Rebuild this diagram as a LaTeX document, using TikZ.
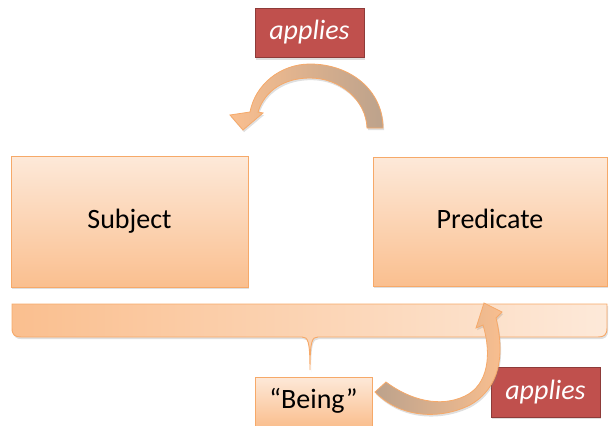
\documentclass[tikz,border=0pt]{standalone}
\usepackage{fontspec}
\setmainfont{Carlito}
\usetikzlibrary{shadows}
\definecolor{peach}{HTML}{FDE9D9}
\definecolor{apricot}{HTML}{FABF8F}
\definecolor{rim}{HTML}{F6A969}
\definecolor{brick}{HTML}{C0504D}
\definecolor{brickrim}{HTML}{8E3B39}
\definecolor{taupe}{HTML}{BCA28C}
\begin{document}
\begin{tikzpicture}[x=0.75pt,y=-0.75pt,
  softshadow/.style={drop shadow={opacity=0.25,shadow xshift=0.8pt,shadow yshift=-1.6pt}},
  termbox/.style={draw=rim,line width=0.7pt,top color=peach,bottom color=apricot,inner sep=0pt,
    text height=14pt,text depth=4pt,font=\fontsize{21}{25}\selectfont,softshadow},
  tagbox/.style={draw=brickrim,line width=0.7pt,fill=brick,text=white,inner sep=0pt,
    text height=14pt,text depth=4pt,
    minimum width=81.75pt,minimum height=37pt,font=\fontsize{21}{25}\selectfont\itshape,softshadow},
  bendarrow/.style={draw=rim,line width=0.6pt,softshadow}]
\useasboundingbox (0,0) rectangle (610,425);

\node[termbox,minimum width=177.75pt,minimum height=98.25pt](subj) at (129.5,221.5) {Subject};
\node[termbox,minimum width=175.5pt,minimum height=96.75pt](pred) at (490,221.5) {Predicate};

% brace under both terms
\draw[draw=rim,line width=0.7pt,left color=apricot,right color=peach,softshadow]
  (12,304) -- (607,304) -- (607,328) .. controls (607,335) and (604,337) .. (598,337)
  -- (318,337) .. controls (312,337) and (310,341) .. (310,370)
  .. controls (310,341) and (308,337) .. (302,337)
  -- (21,337) .. controls (15,337) and (12,335) .. (12,328) -- cycle;

\node[termbox,minimum width=87.75pt,minimum height=36.75pt](being) at (313.5,401.5) {“Being”};

\node[tagbox](applA) at (309.5,33) {applies};
\node[tagbox](applB) at (545.5,392.5) {applies};

% curved arrow from predicate to subject
\draw[bendarrow,left color=apricot,right color=taupe]
  (383,128) .. controls (383,90) and (350,64) .. (310,64)
  .. controls (280,64) and (255,85) .. (250,112)
  -- (230,115) -- (243,130) -- (263,113) -- (258,112)
  .. controls (265,90) and (285,78) .. (310,78)
  .. controls (340,78) and (366,100) .. (367,128) -- cycle;

% curved arrow from being to the brace
\draw[bendarrow,left color=taupe,right color=apricot]
  (375,392) .. controls (400,418) and (440,420) .. (470,405)
  .. controls (500,388) and (505,355) .. (496,318)
  -- (502,312) -- (484,303) -- (476,328) -- (483,325)
  .. controls (492,355) and (488,385) .. (465,396)
  .. controls (440,408) and (410,400) .. (386,382) -- cycle;

\end{tikzpicture}
\end{document}
